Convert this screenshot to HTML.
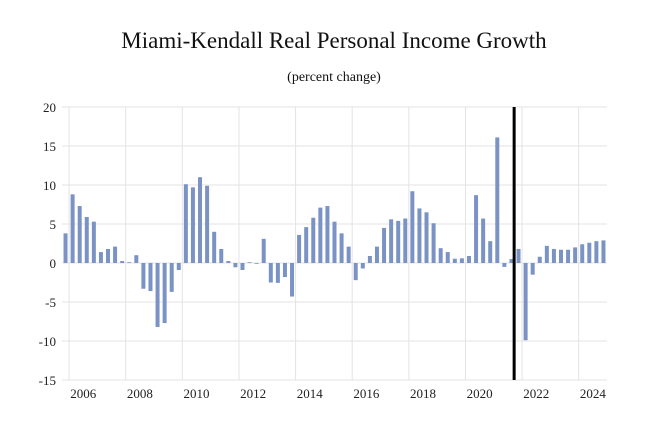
<!DOCTYPE html>
<html><head><meta charset="utf-8"><style>
body{margin:0;background:#fff;}
svg{display:block;font-family:"Liberation Serif",serif;}
</style></head><body>
<svg id="c" width="652" height="432">
<text x="334" y="48" text-anchor="middle" font-size="23" fill="#111">Miami-Kendall Real Personal Income Growth</text>
<text x="334" y="81" text-anchor="middle" font-size="14" fill="#111">(percent change)</text>
<g id="grid"></g><g id="bars"></g><g id="axes"></g>
</svg>
<script>
const startYear = 2005.75;
const values = [3.8,
8.8,7.3,5.9,5.3, 1.4,1.8,2.1,0.25, 0.1,1.0,-3.3,-3.6, -8.2,-7.7,-3.7,-0.9,
10.1,9.7,11.0,9.9, 4.0,1.8,0.25,-0.55, -0.9,0.1,-0.1,3.1, -2.5,-2.55,-1.8,-4.3,
3.6,4.6,5.8,7.1, 7.3,5.3,3.8,2.1, -2.2,-0.7,0.9,2.1, 4.5,5.6,5.4,5.7,
9.2,7.0,6.5,5.1, 1.9,1.4,0.55,0.6, 0.9,8.7,5.7,2.8, 16.1,-0.5,0.5,1.8,
-9.9,-1.5,0.8,2.2, 1.8,1.7,1.7,2.0, 2.4,2.6,2.8,2.9];
const yTicks = [20,15,10,5,0,-5,-10,-15];
const xTickYears = [2006,2008,2010,2012,2014,2016,2018,2020,2022,2024];
const gridYears = [2006,2008,2010,2012,2014,2016,2018,2020,2022,2024];
const forecastStart = 2021.72;

const X0=62, X1=607, Y0=107, Y1=380, yMin=-15, yMax=20, tMin=2005.75, tMax=2025;
const xs = t => X0 + (t - tMin)/(tMax - tMin)*(X1 - X0);
const ys = v => Y1 - (v - yMin)/(yMax - yMin)*(Y1 - Y0);
const NS="http://www.w3.org/2000/svg";
function mk(tag, attrs, parent){const e=document.createElementNS(NS,tag);for(const k in attrs)e.setAttribute(k,attrs[k]);parent.appendChild(e);return e;}
const grid=document.getElementById('grid'), bars=document.getElementById('bars'), axes=document.getElementById('axes');
yTicks.forEach(v=>{
  const l=mk('line',{x1:X0,x2:X1,y1:ys(v),y2:ys(v),stroke:'#e3e3e3','stroke-width':1},grid);
  
  
  const t=mk('text',{x:56,y:ys(v)+5,'text-anchor':'end','font-size':13,fill:'#222'},axes);
  t.textContent=v;
  
  
});
gridYears.forEach(y=>{
  const l=mk('line',{x1:xs(y),x2:xs(y),y1:Y0,y2:Y1,stroke:'#e3e3e3','stroke-width':1},grid);
  
  
});
xTickYears.forEach(y=>{
  const t=mk('text',{x:xs(y+0.5),y:398,'text-anchor':'middle','font-size':13,fill:'#222'},axes);
  t.textContent=y;
  
  
});
const q=(X1-X0)/((tMax-tMin)*4);
values.forEach((v,i)=>{
  const cx=xs(startYear+i*0.25)+q/2;
  const y=Math.min(ys(v),ys(0)), h=Math.abs(ys(v)-ys(0));
  const r=mk('rect',{x:cx-2,y:y,width:4,height:Math.max(h,0.8),fill:'#7b93c4'},bars);
  
  
});
const fl=mk('line',{x1:xs(forecastStart),x2:xs(forecastStart),y1:Y0,y2:Y1,stroke:'#000','stroke-width':3},axes);


</script>
</body></html>
